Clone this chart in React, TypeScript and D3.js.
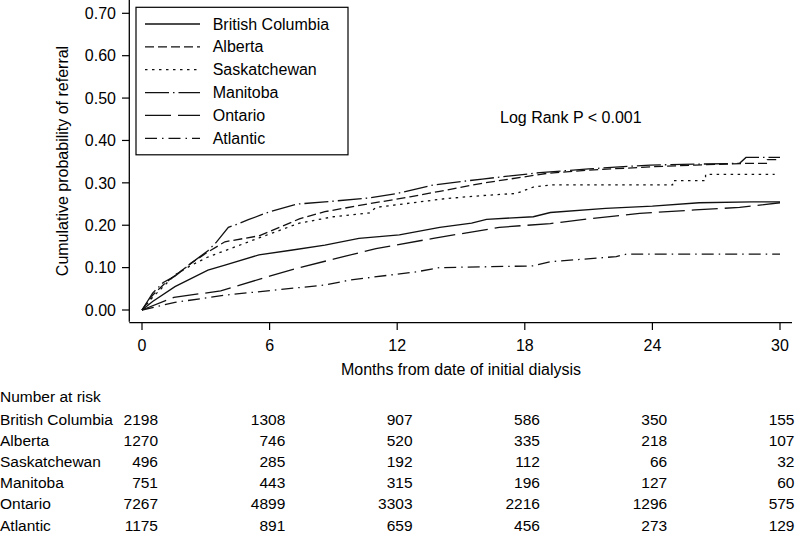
import React from "react";
import * as d3 from "d3";

// ---- Data ----
const seriesNames = ["British Columbia", "Alberta", "Saskatchewan", "Manitoba", "Ontario", "Atlantic"];

const bcCurve: [number, number][] = [
  [0, 0], [0.5, 0.02], [1.55, 0.055], [3.1, 0.094], [3.9, 0.106], [5.5, 0.13], [7, 0.141], [8.6, 0.153],
  [10.2, 0.169], [12.1, 0.177], [14, 0.195], [15.5, 0.205], [16.2, 0.214], [18.4, 0.22], [19.2, 0.23],
  [21.8, 0.24], [24, 0.245], [26.2, 0.253], [28.7, 0.255], [30, 0.255],
];
const albertaCurve: [number, number][] = [
  [0, 0], [0.5, 0.035], [1.08, 0.063], [2.3, 0.11], [3.1, 0.137], [3.9, 0.161], [5.5, 0.175], [6, 0.185],
  [7.4, 0.215], [8.6, 0.232], [10.6, 0.25], [12.6, 0.267], [14, 0.28], [16, 0.299], [19, 0.322], [21, 0.33],
  [24, 0.338], [26, 0.342], [28.5, 0.346], [29.4, 0.346], [29.4, 0.355], [30, 0.355],
];
const saskCurve: [number, number][] = [
  [0, 0], [0.5, 0.03], [1.55, 0.083], [2.3, 0.105], [3.1, 0.125], [3.9, 0.14], [5.5, 0.17], [7.4, 0.205],
  [9, 0.22], [10.7, 0.229], [11, 0.242], [14.3, 0.263], [16, 0.27], [17.6, 0.275], [18.4, 0.29], [19.2, 0.295],
  [24.95, 0.295], [24.95, 0.305], [26.5, 0.305], [26.5, 0.32], [29.75, 0.32],
];
const manitobaCurve: [number, number][] = [
  [0, 0], [0.5, 0.04], [1, 0.065], [1.55, 0.08], [2.3, 0.11], [3.1, 0.14], [3.5, 0.16], [4.06, 0.195],
  [4.5, 0.203], [5, 0.213], [5.9, 0.23], [7.3, 0.25], [8.6, 0.255], [10.6, 0.264], [12, 0.275], [13.7, 0.295],
  [16, 0.309], [18.7, 0.324], [21, 0.333], [23.9, 0.342], [26, 0.344], [28.1, 0.346], [28.4, 0.36], [30, 0.36],
];
const ontarioCurve: [number, number][] = [
  [0, 0], [1.5, 0.03], [3.7, 0.045], [6, 0.08], [7.4, 0.1], [9, 0.12], [11, 0.145], [13.7, 0.169],
  [16.8, 0.195], [19.2, 0.204], [21, 0.215], [23.4, 0.228], [26, 0.236], [28.1, 0.242], [30, 0.253],
];
const atlanticCurve: [number, number][] = [
  [0, 0], [1.55, 0.018], [3.9, 0.035], [6.25, 0.047], [8.6, 0.059], [9.8, 0.071], [12.9, 0.09], [14, 0.1],
  [18.4, 0.104], [19.2, 0.114], [22.3, 0.126], [22.8, 0.132], [30, 0.132],
];

const curves = [bcCurve, albertaCurve, saskCurve, manitobaCurve, ontarioCurve, atlanticCurve];
const dashes = ["none", "9,4", "2.5,4.5", "24,4,1.5,4", "26,7", "12,5,1.5,5"];

const xTicks = [0, 6, 12, 18, 24, 30];
const yTicks = [0, 0.1, 0.2, 0.3, 0.4, 0.5, 0.6, 0.7];

const riskBC = [2198, 1308, 907, 586, 350, 155];
const riskAlberta = [1270, 746, 520, 335, 218, 107];
const riskSask = [496, 285, 192, 112, 66, 32];
const riskManitoba = [751, 443, 315, 196, 127, 60];
const riskOntario = [7267, 4899, 3303, 2216, 1296, 575];
const riskAtlantic = [1175, 891, 659, 456, 273, 129];
const riskRows = [riskBC, riskAlberta, riskSask, riskManitoba, riskOntario, riskAtlantic];

const FONT = "'Liberation Sans', Arial, Helvetica, sans-serif";

export default function App() {
  const W = 796, H = 533;
  const x = d3.scaleLinear().domain([0, 30]).range([142, 780]);
  const y = d3.scaleLinear().domain([0, 0.7]).range([310, 13.3]);
  const line = d3.line<[number, number]>().x((d) => x(d[0])).y((d) => y(d[1]));

  const axisX0 = 129.3;
  const axisY0 = 322.7;
  const legendRowY = (i: number) => 24 + i * 22.86;
  const riskRowY = (i: number) => 425 + i * 21.1;

  return (
    <svg width={W} height={H} style={{ position: "absolute", left: 0, top: 0, background: "#fff" }} fontFamily={FONT}>
      <rect x={0} y={0} width={W} height={H} fill="#fff" />
      {/* axes */}
      <line x1={axisX0} y1={0} x2={axisX0} y2={axisY0 - 1} stroke="#000" strokeWidth={1.3} />
      <line x1={axisX0} y1={axisY0} x2={792} y2={axisY0} stroke="#000" strokeWidth={1.3} />
      {yTicks.map((t) => (
        <g key={"y" + t}>
          <line x1={122} x2={axisX0} y1={y(t)} y2={y(t)} stroke="#000" strokeWidth={1.2} />
          <text x={116} y={y(t) + 5.7} textAnchor="end" fontSize={16}>{t.toFixed(2)}</text>
        </g>
      ))}
      {xTicks.map((t) => (
        <g key={"x" + t}>
          <line x1={x(t)} x2={x(t)} y1={axisY0} y2={330} stroke="#000" strokeWidth={1.2} />
          <text x={x(t)} y={351} textAnchor="middle" fontSize={16}>{t}</text>
        </g>
      ))}
      <text x={(x(0) + x(30)) / 2} y={375} textAnchor="middle" fontSize={16}>Months from date of initial dialysis</text>
      <text transform={`translate(68,161) rotate(-90)`} textAnchor="middle" fontSize={16}>Cumulative probability of referral</text>

      {/* curves */}
      {curves.map((c, i) => (
        <path key={"c" + i} d={line(c) || ""} fill="none" stroke="#111" strokeWidth={1.3}
          strokeDasharray={dashes[i] === "none" ? undefined : dashes[i]} />
      ))}

      <text x={500} y={123} fontSize={16}>Log Rank P &lt; 0.001</text>

      {/* legend */}
      <rect x={136} y={7.3} width={212} height={147.5} fill="#fff" stroke="#000" strokeWidth={1.2} />
      {seriesNames.map((n, i) => (
        <g key={"l" + i}>
          <line x1={145} x2={200} y1={legendRowY(i)} y2={legendRowY(i)} stroke="#111" strokeWidth={1.3}
            strokeDasharray={dashes[i] === "none" ? undefined : dashes[i]} />
          <text x={212.7} y={legendRowY(i) + 5.6} fontSize={16}>{n}</text>
        </g>
      ))}

      {/* number at risk */}
      <text x={0} y={401.5} fontSize={15.5}>Number at risk</text>
      {seriesNames.map((n, i) => (
        <g key={"r" + i}>
          <text x={0} y={riskRowY(i)} fontSize={15.5}>{n}</text>
          {riskRows[i].map((v, j) => (
            <text key={j} x={x(xTicks[j]) + 16 - j * 0.3} y={riskRowY(i)} textAnchor="end" fontSize={15.5}>{v}</text>
          ))}
        </g>
      ))}
    </svg>
  );
}
